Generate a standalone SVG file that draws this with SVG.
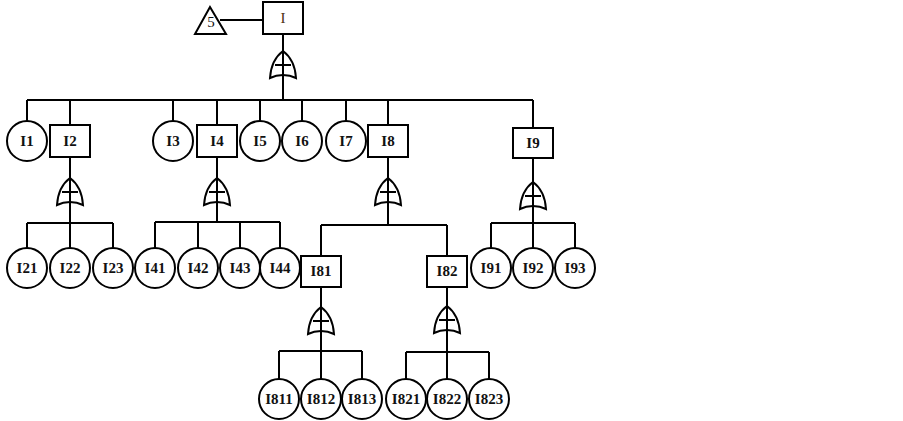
<svg xmlns="http://www.w3.org/2000/svg" width="903" height="421" viewBox="0 0 903 421">
<style>
.s{fill:#fff;stroke:#000;stroke-width:2}
.l{fill:none;stroke:#000;stroke-width:2}
.g{fill:#fff;stroke:#000;stroke-width:2;stroke-linejoin:miter}
text{font-family:"Liberation Serif","Times New Roman",serif;font-size:15px;font-weight:bold;text-anchor:middle;fill:#111}
text.n{font-weight:normal}
</style>
<defs>
<g id="gate">
<path class="g" d="M0 0C-4 3-12 11-13 27C-9 25-4 24 0 24C4 24 9 25 13 27C12 11 4 3 0 0Z"/>
<path class="l" d="M-8 14H8M0 0V24"/>
</g>
</defs>
<rect width="903" height="421" fill="#fff"/>
<g id="connectors">
<path class="l" d="M220 20H263M283 34V100M27 100H533M27 100V121M70 100V125M173 100V121M217 100V125M260 100V121M302 100V121M346 100V121M388 100V125M533 100V128"/>
<path class="l" d="M70 157V223M27 223H113M27 223V248M70 223V248M113 223V248"/>
<path class="l" d="M217 157V222M155 222H280M155 222V248M198 222V248M240 222V248M280 222V248"/>
<path class="l" d="M388 157V225M321 225H447M321 225V256M447 225V256"/>
<path class="l" d="M533 158V223M491 223H575M491 223V248M533 223V248M575 223V248"/>
<path class="l" d="M321 287V351M279 351H362M279 351V379M321 351V379M362 351V379"/>
<path class="l" d="M447 287V352M406 352H489M406 352V379M447 352V379M489 352V379"/>
</g>
<g id="gates">
<use href="#gate" x="283" y="51"/>
<use href="#gate" x="70" y="178"/>
<use href="#gate" x="217" y="178"/>
<use href="#gate" x="388" y="178"/>
<use href="#gate" x="533" y="182"/>
<use href="#gate" x="321" y="307"/>
<use href="#gate" x="447" y="306"/>
</g>
<g id="n5"><path class="s" d="M210 7L195 34H226Z"/><text class="n" x="211" y="27" font-size="15">5</text></g>
<g id="nI"><rect class="s" x="263" y="2" width="40" height="32"/><text class="n" x="283" y="23" style="fill:#4a3010">I</text></g>
<g id="nI1"><circle class="s" cx="27" cy="141" r="20"/><text x="27" y="146">I1</text></g>
<g id="nI2"><rect class="s" x="50" y="125" width="40" height="32"/><text x="70" y="146">I2</text></g>
<g id="nI3"><circle class="s" cx="173" cy="141" r="20"/><text x="173" y="146">I3</text></g>
<g id="nI4"><rect class="s" x="197" y="125" width="40" height="32"/><text x="217" y="146">I4</text></g>
<g id="nI5"><circle class="s" cx="260" cy="141" r="20"/><text x="260" y="146">I5</text></g>
<g id="nI6"><circle class="s" cx="302" cy="141" r="20"/><text x="302" y="146">I6</text></g>
<g id="nI7"><circle class="s" cx="346" cy="141" r="20"/><text x="346" y="146">I7</text></g>
<g id="nI8"><rect class="s" x="368" y="125" width="40" height="32"/><text x="388" y="146">I8</text></g>
<g id="nI9"><rect class="s" x="513" y="128" width="40" height="30"/><text x="533" y="148">I9</text></g>
<g id="nI21"><circle class="s" cx="27" cy="268" r="20"/><text x="27" y="273">I21</text></g>
<g id="nI22"><circle class="s" cx="70" cy="268" r="20"/><text x="70" y="273">I22</text></g>
<g id="nI23"><circle class="s" cx="113" cy="268" r="20"/><text x="113" y="273">I23</text></g>
<g id="nI41"><circle class="s" cx="155" cy="268" r="20"/><text x="155" y="273">I41</text></g>
<g id="nI42"><circle class="s" cx="198" cy="268" r="20"/><text x="198" y="273">I42</text></g>
<g id="nI43"><circle class="s" cx="240" cy="268" r="20"/><text x="240" y="273">I43</text></g>
<g id="nI44"><circle class="s" cx="280" cy="268" r="20"/><text x="280" y="273">I44</text></g>
<g id="nI81"><rect class="s" x="301" y="256" width="40" height="31"/><text x="321" y="276">I81</text></g>
<g id="nI82"><rect class="s" x="427" y="256" width="40" height="31"/><text x="447" y="276">I82</text></g>
<g id="nI91"><circle class="s" cx="491" cy="268" r="20"/><text x="491" y="273">I91</text></g>
<g id="nI92"><circle class="s" cx="533" cy="268" r="20"/><text x="533" y="273">I92</text></g>
<g id="nI93"><circle class="s" cx="575" cy="268" r="20"/><text x="575" y="273">I93</text></g>
<g id="nI811"><circle class="s" cx="279" cy="399" r="20"/><text x="279" y="404">I811</text></g>
<g id="nI812"><circle class="s" cx="321" cy="399" r="20"/><text x="321" y="404">I812</text></g>
<g id="nI813"><circle class="s" cx="362" cy="399" r="20"/><text x="362" y="404">I813</text></g>
<g id="nI821"><circle class="s" cx="406" cy="399" r="20"/><text x="406" y="404">I821</text></g>
<g id="nI822"><circle class="s" cx="447" cy="399" r="20"/><text x="447" y="404">I822</text></g>
<g id="nI823"><circle class="s" cx="489" cy="399" r="20"/><text x="489" y="404">I823</text></g>
</svg>
